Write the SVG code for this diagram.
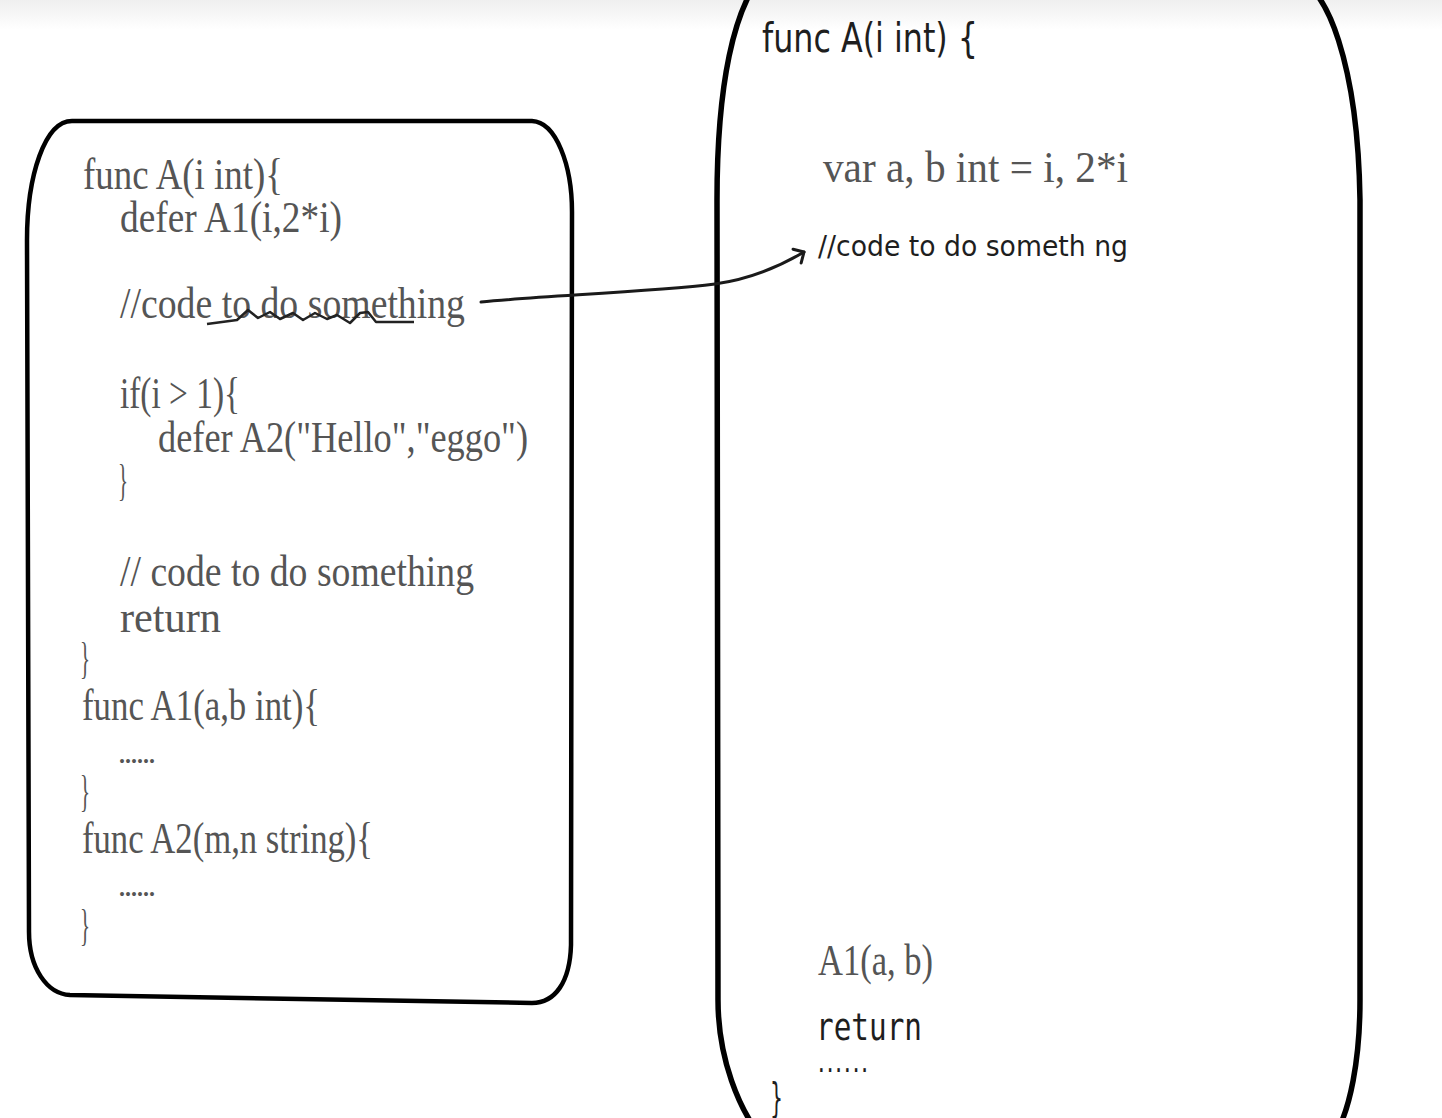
<svg xmlns="http://www.w3.org/2000/svg" width="1442" height="1118" viewBox="0 0 1442 1118">
<defs>
<linearGradient id="topband" x1="0" y1="0" x2="0" y2="1">
<stop offset="0" stop-color="#efefef"/>
<stop offset="1" stop-color="#ffffff"/>
</linearGradient>
<marker id="openhead" markerUnits="userSpaceOnUse" markerWidth="24" markerHeight="24" refX="0" refY="0" viewBox="-12 -12 24 24" orient="auto" overflow="visible">
<path d="M-8,-8 L0,0 L-8,8" fill="none" stroke="#1a1a1a" stroke-width="3" stroke-linecap="round" stroke-linejoin="round"/>
</marker>
<style>
.box{fill:none;stroke:#000;stroke-linejoin:round}
.serif{font-family:"Liberation Serif","DejaVu Serif",serif;fill:#555}
.ls{font-size:45px}
.dots{font-family:"Liberation Serif","DejaVu Serif",serif;fill:#555;font-size:26px;font-weight:bold}
.hand{font-family:"DejaVu Sans","Liberation Sans",sans-serif;fill:#1e1e1e}
.mono{font-family:"DejaVu Sans Mono","Liberation Mono",monospace;fill:#1e1e1e}
.conn{fill:none;stroke:#1a1a1a;stroke-width:3;stroke-linecap:round}
</style>
</defs>
<rect x="0" y="0" width="1442" height="1118" fill="#ffffff"/>
<rect x="0" y="0" width="1442" height="30" fill="url(#topband)"/>

<g id="left-box">
<path class="box" stroke-width="4.5" d="M72,121 L532,121 C556,122 572,165 572,212 L571,945 C570,982 555,1003 532,1003 L70,995 C47,994 29,968 29,932 L27,240 C27,175 45,121 72,121 Z"/>
<text class="serif ls" x="83" y="189" textLength="200" lengthAdjust="spacingAndGlyphs">func A(i int){</text>
<text class="serif ls" x="120" y="232" textLength="222" lengthAdjust="spacingAndGlyphs">defer A1(i,2*i)</text>
<text class="serif ls" x="120" y="318" textLength="345" lengthAdjust="spacingAndGlyphs">//code to do something</text>
<path fill="none" stroke="#222" stroke-width="2.5" stroke-linejoin="round" d="M207,324 L237,320 L248,310 L258,318 L270,312 L280,319 L293,313 L303,320 L315,313 L327,319 L337,315 L350,323 L360,313 L368,312 L376,322 L414,322"/>
<text class="serif ls" x="120" y="408" textLength="120" lengthAdjust="spacingAndGlyphs">if(i &gt; 1){</text>
<text class="serif ls" x="158" y="452" textLength="370" lengthAdjust="spacingAndGlyphs">defer A2(&quot;Hello&quot;,&quot;eggo&quot;)</text>
<text class="serif ls" x="118" y="495" textLength="10" lengthAdjust="spacingAndGlyphs">}</text>
<text class="serif ls" x="120" y="586" textLength="354" lengthAdjust="spacingAndGlyphs">// code to do something</text>
<text class="serif ls" x="120" y="632" textLength="101" lengthAdjust="spacingAndGlyphs">return</text>
<text class="serif ls" x="80" y="673" textLength="10" lengthAdjust="spacingAndGlyphs">}</text>
<text class="serif ls" x="82" y="720" textLength="238" lengthAdjust="spacingAndGlyphs">func A1(a,b int){</text>
<text class="dots" x="119" y="763" textLength="36" lengthAdjust="spacingAndGlyphs">......</text>
<text class="serif ls" x="80" y="806" textLength="10" lengthAdjust="spacingAndGlyphs">}</text>
<text class="serif ls" x="82" y="853" textLength="291" lengthAdjust="spacingAndGlyphs">func A2(m,n string){</text>
<text class="dots" x="119" y="896" textLength="36" lengthAdjust="spacingAndGlyphs">......</text>
<text class="serif ls" x="80" y="940" textLength="10" lengthAdjust="spacingAndGlyphs">}</text>
</g>

<g id="right-box">
<path class="box" stroke-width="5.5" d="M760,-22 L1290,-22 C1328,-22 1358,70 1360,200 L1360,1000 C1360,1060 1350,1110 1335,1135 L760,1135 C740,1110 718,1060 718,1000 L717,200 C717,80 735,10 760,-22 Z"/>
<text class="hand" x="762" y="52" font-size="40" textLength="216" lengthAdjust="spacingAndGlyphs">func A(i int) {</text>
<text class="serif" x="823" y="182" font-size="44" textLength="305" lengthAdjust="spacingAndGlyphs">var a, b int = i, 2*i</text>
<text class="hand" x="818" y="256" font-size="28" font-weight="500" textLength="310" lengthAdjust="spacingAndGlyphs">//code to do someth ng</text>
<text class="serif" x="818" y="975" font-size="44" textLength="115" lengthAdjust="spacingAndGlyphs">A1(a, b)</text>
<text class="mono" x="816" y="1040" font-size="38" textLength="106" lengthAdjust="spacingAndGlyphs">return</text>
<text class="mono" x="817" y="1072" font-size="22" font-weight="bold" textLength="52" lengthAdjust="spacingAndGlyphs">......</text>
<text class="hand" x="770" y="1112" font-size="40" textLength="13" lengthAdjust="spacingAndGlyphs">}</text>
</g>

<g id="connectors">
<path class="conn" marker-end="url(#openhead)" d="M481,302 C540,296 650,292 715,284 C752,279 782,265 804,252"/>
</g>
</svg>
